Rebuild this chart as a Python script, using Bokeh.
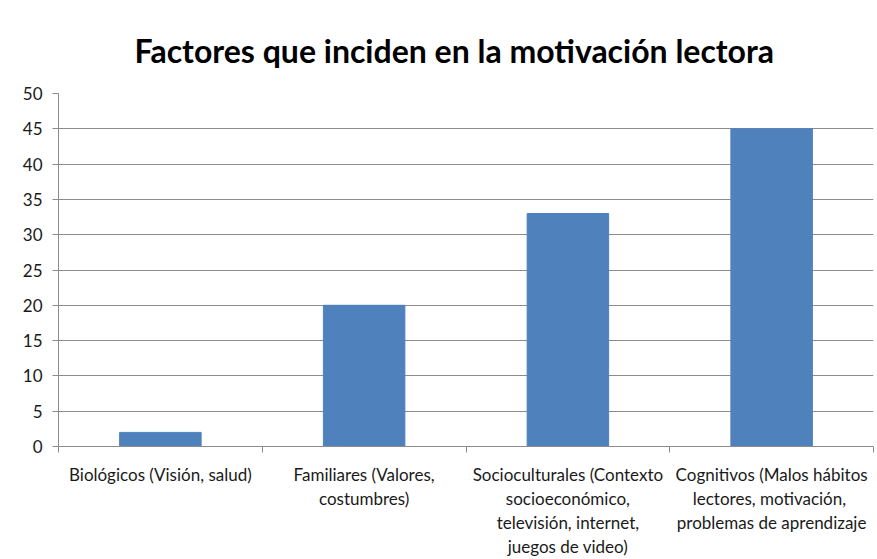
from bokeh.plotting import figure
from bokeh.models import FixedTicker, Range1d, ColumnDataSource
from bokeh.embed import file_html
from bokeh.resources import INLINE

title_text = "Factores que inciden en la motivación lectora"
categories = [
    "Biológicos (Visión, salud)",
    "Familiares (Valores,\ncostumbres)",
    "Socioculturales (Contexto\nsocioeconómico,\ntelevisión, internet,\njuegos de video)",
    "Cognitivos (Malos hábitos\nlectores,  motivación,\nproblemas de aprendizaje",
]
values = [2, 20, 33, 45]
y_ticks = [0, 5, 10, 15, 20, 25, 30, 35, 40, 45, 50]

FONT = "Lato"
GRAY = "#8c8c8c"

positions = [i + 0.5 for i in range(len(categories))]
boundaries = list(range(len(categories) + 1))

source = ColumnDataSource(data=dict(x=positions, top=values))

p = figure(
    width=877, height=559,
    x_range=Range1d(0, len(categories)),
    y_range=Range1d(y_ticks[0], y_ticks[-1]),
    output_backend="svg", toolbar_location=None,
    min_border_left=58, min_border_right=4,
    min_border_top=93, min_border_bottom=113,
)
p.outline_line_color = None
p.background_fill_color = "white"
p.border_fill_color = "white"

p.title.text = title_text
p.title.align = "left"
p.title.text_font = FONT
p.title.text_font_style = "bold"
p.title.text_font_size = "32px"
p.title.text_color = "#000000"
p.title.offset = 76
p.title.standoff = 48

p.vbar(x="x", top="top", width=0.4, source=source, fill_color="#4F81BD", line_color="#4F81BD")

# y axis
p.yaxis.ticker = FixedTicker(ticks=y_ticks)
p.yaxis.axis_line_color = GRAY
p.yaxis.major_tick_line_color = GRAY
p.yaxis.major_tick_out = 6
p.yaxis.major_tick_in = 0
p.yaxis.minor_tick_line_color = None
p.yaxis.major_label_text_font = FONT
p.yaxis.major_label_text_font_size = "17px"
p.yaxis.major_label_text_color = "#1a1a1a"
p.yaxis.major_label_standoff = 10

# x axis
p.xaxis.ticker = FixedTicker(ticks=positions, minor_ticks=boundaries)
p.xaxis.major_label_overrides = {pos: cat for pos, cat in zip(positions, categories)}
p.xaxis.axis_line_color = GRAY
p.xaxis.major_tick_line_color = None
p.xaxis.major_tick_out = 0
p.xaxis.major_tick_in = 0
p.xaxis.minor_tick_line_color = GRAY
p.xaxis.minor_tick_out = 6
p.xaxis.minor_tick_in = 0
p.xaxis.major_label_text_font = FONT
p.xaxis.major_label_text_font_size = "17px"
p.xaxis.major_label_text_color = "#1a1a1a"
p.xaxis.major_label_text_line_height = 1.15
p.xaxis.major_label_standoff = 11

p.xgrid.grid_line_color = None
p.ygrid.grid_line_color = GRAY
p.ygrid.grid_line_width = 1.2

open("out.html", "w").write(file_html(p, INLINE))
